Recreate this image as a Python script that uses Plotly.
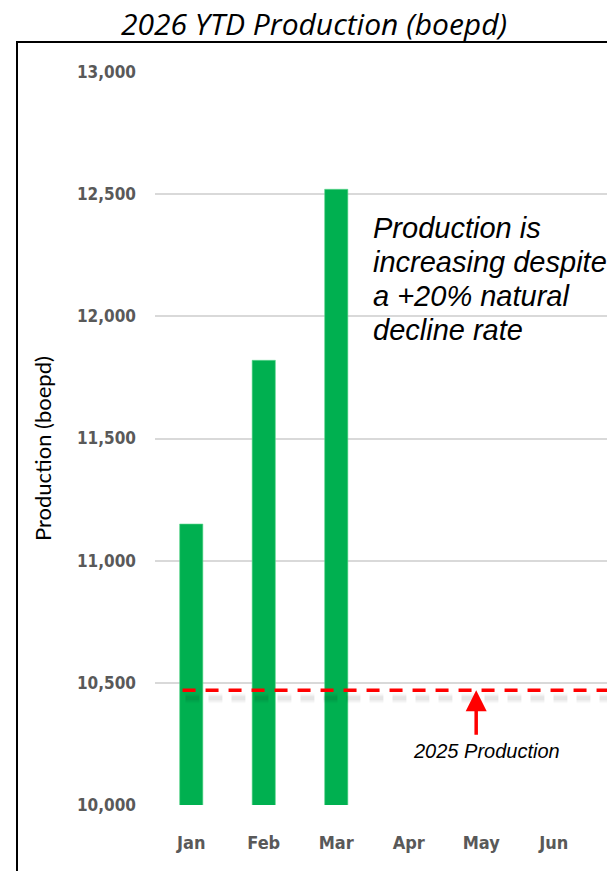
import plotly.graph_objects as go

# Monthly production, 2026 year to date (boepd)
months = ["Jan", "Feb", "Mar", "Apr", "May", "Jun", "Jul", "Aug", "Sep", "Oct", "Nov", "Dec"]
production = [11150, 11820, 12520, None, None, None, None, None, None, None, None, None]

# 2025 average production reference level
baseline_2025 = 10470

y_ticks = [10000, 10500, 11000, 11500, 12000, 12500, 13000]

callout_lines = ["Production is", "increasing despite", "a +20% natural", "decline rate"]

GREEN = "#00b050"
TICK_GREY = "#595959"
GRID = "#d9d9d9"
TICK_FONT = "DejaVu Sans Condensed, sans-serif"

# plot-area geometry in pixels (used for frame and text placement)
PLOT_L, PLOT_R, PLOT_T, PLOT_B = 155, 607, 72, 805
Y_MIN, Y_MAX = 10000, 13000
px_per_unit = (PLOT_B - PLOT_T) / (Y_MAX - Y_MIN)


def px_x(p):
    return (p - PLOT_L) / (PLOT_R - PLOT_L)


def px_y(p):
    return (PLOT_B - p) / (PLOT_B - PLOT_T)


def px_to_value(p):
    return Y_MIN + (PLOT_B - p) / px_per_unit


fig = go.Figure()

fig.add_trace(go.Bar(
    x=list(range(len(months))),
    y=production,
    marker=dict(color=GREEN, line=dict(color="#5fd68f", width=0.6)),
    width=0.32,
    hoverinfo="skip",
))

# soft drop shadow under the reference line
shadow_offset = 8 / px_per_unit
for w, a in [(10, 0.025), (7, 0.035), (4, 0.045)]:
    fig.add_trace(go.Scatter(
        x=[-0.08, 7.5],
        y=[baseline_2025 - shadow_offset] * 2,
        mode="lines",
        line=dict(color=f"rgba(0,0,0,{a})", width=w, dash="14px,9px"),
        hoverinfo="skip",
    ))
fig.add_trace(go.Scatter(
    x=[-0.12, 7.5],
    y=[baseline_2025] * 2,
    mode="lines",
    line=dict(color="#ff0000", width=3.5, dash="13px,10px"),
    hoverinfo="skip",
))

annotations = [
    # arrow pointing at the 2025 line
    dict(x=3.93, y=baseline_2025, xref="x", yref="y", text="",
         showarrow=True, arrowhead=2, arrowsize=1.2, arrowwidth=3.5,
         arrowcolor="#ff0000", ax=0, ay=46, standoff=0),
    dict(x=4.07, y=baseline_2025, xref="x", yref="y", text="2025 Production",
         showarrow=False, yshift=-61,
         font=dict(family="Liberation Sans, Arial", size=20, color="#000000", style="italic")),
    # vertical axis title
    dict(x=px_x(42), y=px_y(449), xref="paper", yref="paper", text="Production (boepd)",
         textangle=-90, showarrow=False, xanchor="center", yanchor="middle",
         font=dict(family="Lato", size=22, color="#000000")),
]

# callout text, one line per annotation for tight line spacing
for i, line in enumerate(callout_lines):
    annotations.append(dict(
        x=2.48, y=px_to_value(228 + 34 * i), xref="x", yref="y",
        xanchor="left", yanchor="middle", text=line, showarrow=False,
        font=dict(family="Liberation Sans, Arial", size=29, color="#000000", style="italic"),
    ))

shapes = [
    dict(type="line", xref="paper", yref="paper", x0=px_x(17), x1=px_x(17),
         y0=px_y(42), y1=px_y(880), line=dict(color="#000000", width=2)),
    dict(type="line", xref="paper", yref="paper", x0=px_x(16), x1=px_x(620),
         y0=px_y(42), y1=px_y(42), line=dict(color="#000000", width=2)),
]

fig.update_layout(
    width=607,
    height=871,
    margin=dict(l=PLOT_L, r=607 - PLOT_R, t=PLOT_T, b=871 - PLOT_B),
    paper_bgcolor="white",
    plot_bgcolor="white",
    showlegend=False,
    title=dict(text="2026 YTD Production (boepd)", x=314 / 607, xanchor="center",
               y=1 - 24 / 871, yanchor="middle",
               font=dict(family="Open Sans", size=30, color="#000000", style="italic")),
    annotations=annotations,
    shapes=shapes,
)

fig.update_xaxes(
    tickmode="array",
    tickvals=list(range(len(months))),
    ticktext=months,
    range=[-0.5, (PLOT_R - PLOT_L) / 72.5 - 0.5],
    showgrid=False,
    showline=False,
    zeroline=False,
    ticks="",
    ticklabelstandoff=25,
    tickfont=dict(family=TICK_FONT, size=18, color=TICK_GREY, weight="bold"),
)

fig.update_yaxes(
    range=[Y_MIN, Y_MAX],
    tickmode="array",
    tickvals=y_ticks,
    ticktext=[f"{v:,}" for v in y_ticks],
    showgrid=True,
    gridcolor=GRID,
    gridwidth=2,
    zeroline=False,
    showline=False,
    ticks="",
    ticklabelstandoff=18,
    tickfont=dict(family=TICK_FONT, size=17, color=TICK_GREY, weight="bold"),
)

fig.write_html("out.html")
